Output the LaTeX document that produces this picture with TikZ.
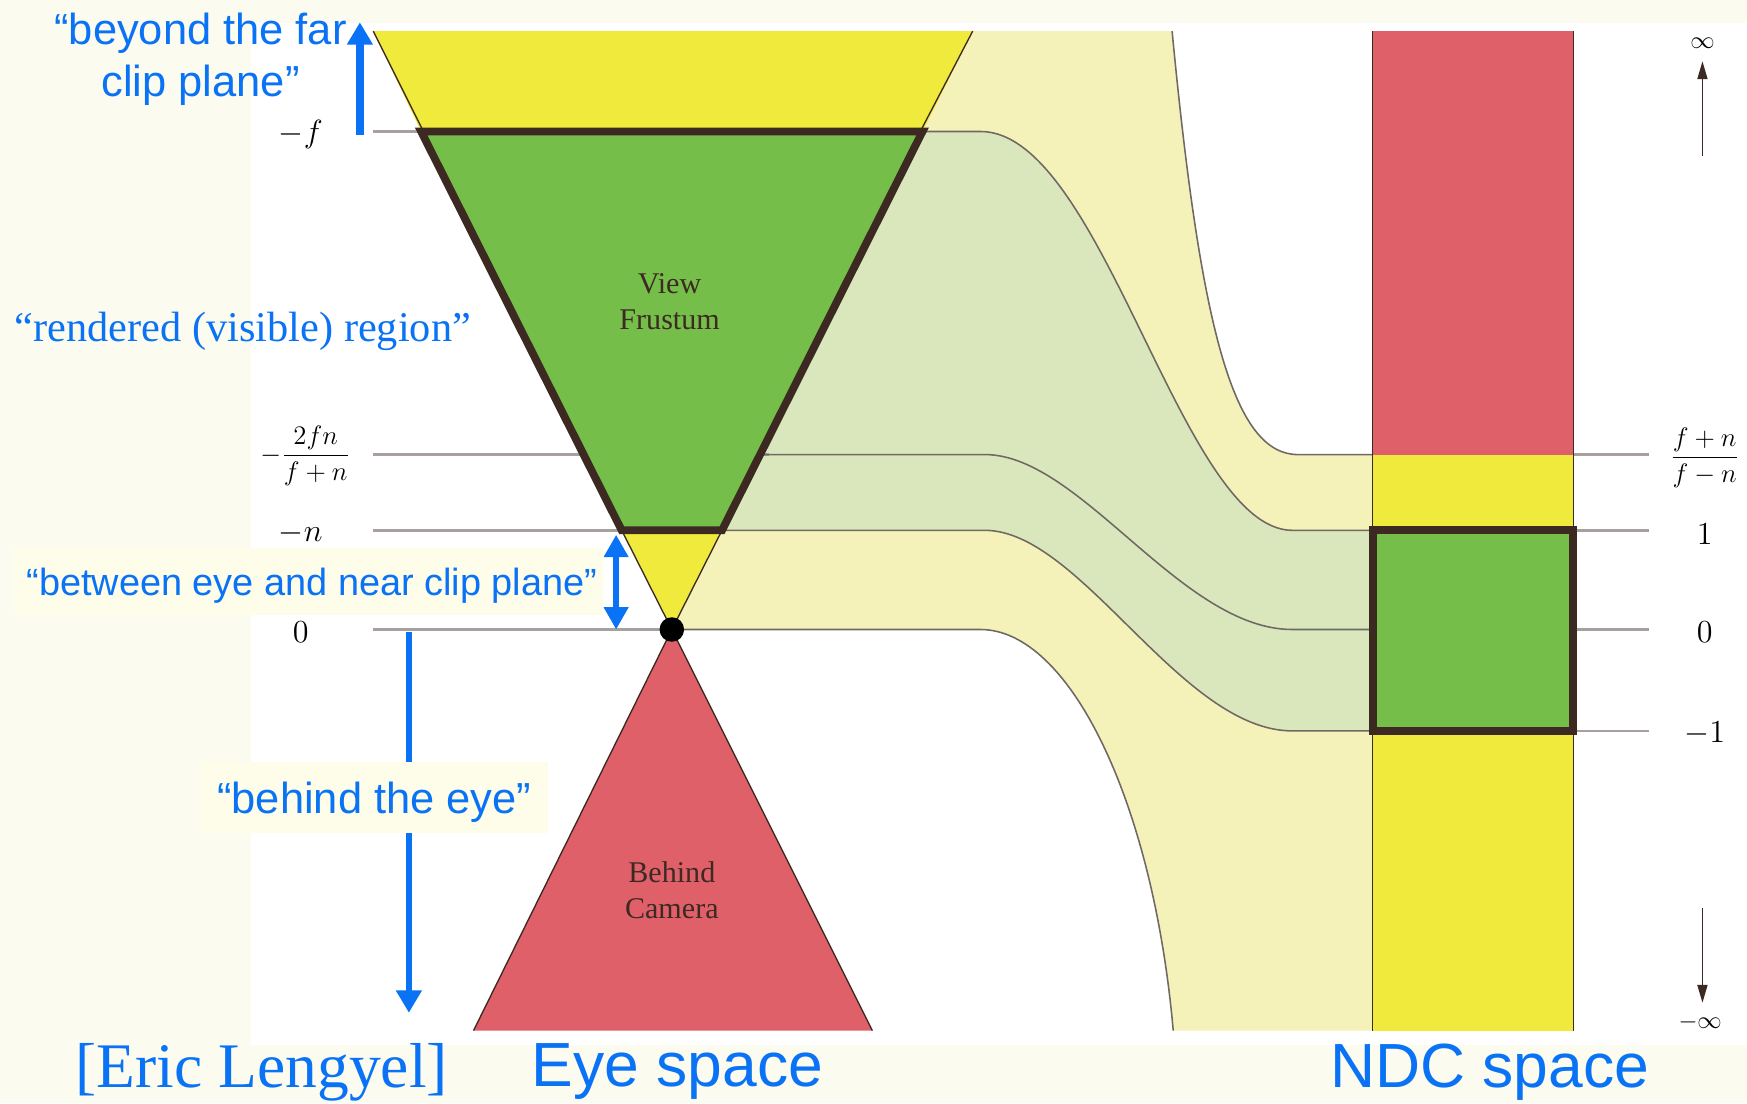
\documentclass[tikz,border=0pt]{standalone}
\usepackage{fontspec}
\setmainfont{Liberation Serif}
\newfontfamily\arialf{Liberation Sans}
\newfontfamily\timesf{Liberation Serif}
\usetikzlibrary{arrows.meta}
\definecolor{yel}{RGB}{240,234,60}
\definecolor{pyel}{RGB}{244,242,184}
\definecolor{grn}{RGB}{117,190,74}
\definecolor{pgrn}{RGB}{218,231,189}
\definecolor{redc}{RGB}{224,96,106}
\definecolor{brd}{RGB}{60,42,34}
\definecolor{gline}{RGB}{168,160,158}
\definecolor{cline}{RGB}{112,104,100}
\definecolor{blu}{RGB}{10,115,245}
\definecolor{cream}{RGB}{252,251,240}
\definecolor{boxc}{RGB}{253,253,233}
\begin{document}
\begin{tikzpicture}[x=0.5pt,y=-0.5pt,
  thinedge/.style={draw=brd, line width=0.6pt},
  curve/.style={draw=cline, line width=0.7pt},
  guide/.style={draw=gline, line width=1.2pt},
  frame/.style={draw=brd, line width=3.5pt, line join=miter},
  blarrow/.style={draw=blu, line width=#1, -{Triangle[width=11pt,length=10pt]}},
  darrow/.style={draw=brd, line width=0.7pt, -{Triangle[width=4.5pt,length=8pt]}},
  mlab/.style={inner sep=0pt, font=\fontsize{13.5}{15}\selectfont},
  flab/.style={inner sep=0pt, font=\fontsize{13}{15}\selectfont},
  ilab/.style={inner sep=0pt, font=\fontsize{10.5}{12}\selectfont},
  inlab/.style={inner sep=0pt, align=center, text=brd, font={\timesf\fontsize{13.5}{16}\selectfont}},
  bsans/.style={inner sep=0pt, align=center, text=blu},
]
\useasboundingbox (0,0) rectangle (1568,990);
% backgrounds
\fill[cream] (0,0) rectangle (1568,990);
\fill[white] (225,21) rectangle (1568,938);

% pale mapping regions
\fill[pyel] (603,565) -- (873,28) -- (1052,28) .. controls (1078,300) and (1108,408) .. (1165,408) -- (1232,408) -- (1232,925) -- (1053,925) .. controls (1035,720) and (960,565) .. (880,565) -- cycle;
\fill[pgrn] (828,118) -- (880,118) .. controls (990,118) and (1060,476) .. (1160,476) -- (1232,476) -- (1232,656) -- (1160,656) .. controls (1060,656) and (970,476) .. (884,476) -- (648,476) -- cycle;

% guide lines
\draw[guide] (335,118) -- (380,118);
\draw[guide] (335,408) -- (690,408);
\draw[guide] (335,476) -- (560,476);
\draw[guide] (335,565) -- (603,565);
\foreach \yy in {408,476,565,656} \draw[guide] (1412,\yy) -- (1480,\yy);

% mapping curves
\draw[curve] (1052,28) .. controls (1078,300) and (1108,408) .. (1165,408) -- (1232,408);
\draw[curve] (828,118) -- (880,118) .. controls (990,118) and (1060,476) .. (1160,476) -- (1232,476);
\draw[curve] (684,408) -- (884,408) .. controls (970,408) and (1060,565) .. (1160,565) -- (1232,565);
\draw[curve] (648,476) -- (884,476) .. controls (970,476) and (1060,656) .. (1160,656) -- (1232,656);
\draw[curve] (603,565) -- (880,565) .. controls (960,565) and (1035,720) .. (1053,925);

% eye space shapes
\fill[yel] (335,28) -- (873,28) -- (828,118) -- (378,118) -- cycle;
\draw[thinedge] (335,28) -- (380,118) (873,28) -- (826,118);
\fill[yel] (558,476) -- (648,476) -- (603,565) -- cycle;
\draw[thinedge] (558,476) -- (603,565) -- (648,476);
\fill[redc] (603,565) -- (783,925) -- (425,925) -- cycle;
\draw[thinedge] (425,925) -- (603,565) -- (783,925);
\draw[frame, fill=grn] (378,118) -- (828,118) -- (648,476) -- (558,476) -- cycle;

% NDC column
\fill[redc] (1232,28) rectangle (1412,408);
\fill[yel] (1232,408) rectangle (1412,925);
\draw[thinedge] (1232,28) -- (1232,925) (1412,28) -- (1412,925);
\draw[frame, fill=grn] (1232,476) rectangle (1412,656);

% eye point
\node[circle, fill=black, minimum size=11pt, inner sep=0pt] (eye) at (603,565) {};

% inner labels
\node[inlab] (vf) at (601,271) {View\\Frustum};
\node[inlab] (bc) at (603,799) {Behind\\Camera};

% left axis labels
\node[mlab] (lf) at (270,121) {$-f$};
\node[flab] (lfn) at (274,409) {$-\displaystyle\frac{2fn}{f+n}$};
\node[mlab] (ln) at (270,479) {$-n$};
\node[mlab] (l0) at (270,567) {$0$};

% right axis labels
\node[flab] (rfn) at (1530,411) {$\displaystyle\frac{f+n}{f-n}$};
\node[mlab] (r1) at (1530,479) {$1$};
\node[mlab] (r0) at (1530,567) {$0$};
\node[mlab] (rm1) at (1530,658) {$-1$};
\node[ilab] (rinf) at (1528,39) {$\infty$};
\node[ilab] (rminf) at (1526,918) {$-\infty$};
\coordinate (ua) at (1528,140);
\coordinate (ub) at (1528,55);
\coordinate (da) at (1528,815);
\coordinate (db) at (1528,900);
\draw[darrow] (ua) -- (ub);
\draw[darrow] (da) -- (db);

% blue annotations
\coordinate (fa) at (323,121);
\coordinate (fb) at (323,20);
\draw[blarrow=3.5pt] (fa) -- (fb);
\node[bsans, font={\arialf\fontsize{19.5}{23.5}\selectfont}] (beyond) at (180,53) {“beyond the far\\clip plane”};

\node[inner sep=0pt, text=blu, font={\timesf\fontsize{19}{22}\selectfont}] (rend) at (218,297) {“rendered (visible) region”};

\coordinate (ba) at (553,480);
\coordinate (bb) at (553,565);
\draw[draw=blu, line width=2.5pt, {Triangle[width=10.5pt,length=10pt]}-{Triangle[width=10.5pt,length=10pt]}] (ba) -- (bb);
\node[fill=boxc, minimum width=264pt, minimum height=30pt, inner sep=0pt] (betweenbox) at (277,522) {};
\node[bsans, font={\arialf\fontsize{17}{20}\selectfont}] (between) at (280,526) {“between eye and near clip plane”};

\coordinate (ha) at (367,567);
\coordinate (hb) at (367,909);
\draw[blarrow=3pt] (ha) -- (hb);
\node[fill=boxc, minimum width=156pt, minimum height=32pt, inner sep=0pt] (behindbox) at (336,716) {};
\node[bsans, font={\arialf\fontsize{19.5}{23}\selectfont}] (behind) at (336,720) {“behind the eye”};

\node[inner sep=0pt, text=blu, font={\timesf\fontsize{28.5}{32}\selectfont}] (eric) at (235,962) {[Eric Lengyel]};
\node[bsans, font={\arialf\fontsize{28}{32}\selectfont}] (eyesp) at (608,962) {Eye space};
\node[bsans, font={\arialf\fontsize{28}{32}\selectfont}] (ndcsp) at (1337,962) {NDC space};
\end{tikzpicture}
\end{document}
